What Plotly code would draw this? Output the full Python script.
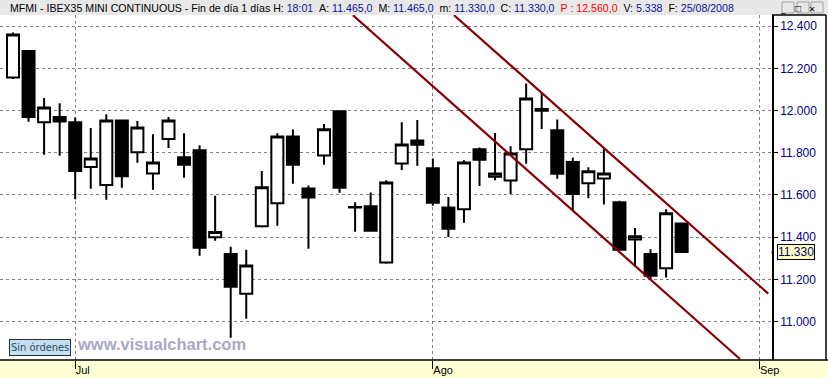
import pandas as pd
import plotly.graph_objects as go

# ---------------- data ----------------
dates = pd.bdate_range("2008-06-25", "2008-08-25")
opens = [12157, 12282, 11944, 11969, 11944, 11732, 11647, 11953, 11802, 11702,
         11865, 11779, 11812, 11399, 11320, 11132, 11451, 11560, 11877, 11631,
         11787, 11997, 11543, 11546, 11280, 11749, 11858, 11726, 11541, 11532,
         11816, 11686, 11669, 11816, 12007, 11907, 11756, 11655, 11678, 11565,
         11389, 11320, 11252, 11465]
highs = [12370, 12286, 12059, 12035, 11967, 11917, 11982, 11958, 11950, 11888,
         11969, 11893, 11836, 11596, 11354, 11340, 11713, 11892, 11911, 11645,
         11936, 12002, 11565, 11612, 11670, 11945, 11955, 11773, 11590, 11765,
         11825, 11894, 11831, 12128, 12086, 11958, 11778, 11731, 11821, 11572,
         11443, 11343, 11532, 11465]
lows = [12150, 11947, 11790, 11786, 11580, 11629, 11577, 11634, 11752, 11624,
        11823, 11681, 11312, 11383, 10923, 11013, 11446, 11454, 11653, 11345,
        11743, 11610, 11425, 11425, 11274, 11718, 11738, 11549, 11400, 11468,
        11642, 11670, 11605, 11748, 11913, 11677, 11528, 11584, 11555, 11339,
        11260, 11197, 11209, 11330]
closes = [12361, 11970, 12015, 11948, 11714, 11773, 11953, 11688, 11920, 11754,
          11953, 11743, 11350, 11424, 11165, 11266, 11636, 11877, 11743, 11588,
          11911, 11634, 11540, 11430, 11659, 11839, 11838, 11563, 11440, 11754,
          11767, 11702, 11797, 12057, 11999, 11700, 11605, 11712, 11702, 11340,
          11404, 11217, 11513, 11330]

month_ticks = ["2008-07-01", "2008-08-01", "2008-09-01"]
month_labels = ["Jul", "Ago", "Sep"]

y_ticks = [11000, 11200, 11400, 11600, 11800, 12000, 12200, 12400]
y_labels = ["11.000", "11.200", "11.400", "11.600", "11.800", "12.000", "12.200", "12.400"]

# channel lines (bar index, price)
lower_x = [21.86, 46.75]
lower_y = [12452, 10822]
upper_x = [28.36, 48.57]
upper_y = [12452, 11132]

last_price = 11330
header_parts = [
    ("MFMI - IBEX35 MINI CONTINUOUS - Fin de día 1 días H: ", "#000000"),
    ("18:01", "#1010A0"), ("  A: ", "#000000"), ("11.465,0", "#1010A0"),
    ("  M: ", "#000000"), ("11.465,0", "#1010A0"),
    ("  m: ", "#000000"), ("11.330,0", "#1010A0"),
    ("  C: ", "#000000"), ("11.330,0", "#1010A0"),
    ("  P : 12.560,0", "#FF0000"),
    ("  V: ", "#000000"), ("5.338", "#1010A0"),
    ("  F: ", "#000000"), ("25/08/2008", "#1010A0"),
]

# ---------------- positions ----------------
x_idx = list(range(len(dates)))
all_days = pd.bdate_range("2008-06-25", "2008-09-01")
tick_pos = [int(all_days.get_loc(pd.Timestamp(d))) for d in month_ticks]

W, H = 828, 378
L, R, T, B = 0, 56, 15, 18
PW, PH = W - L - R, H - T - B


def px(x):
    return (x - L) / PW


def py(y):
    return (H - B - y) / PH


fig = go.Figure()
fig.add_trace(go.Candlestick(
    x=x_idx, open=opens, high=highs, low=lows, close=closes,
    increasing=dict(fillcolor="white", line=dict(color="black", width=2)),
    decreasing=dict(fillcolor="black", line=dict(color="black", width=2)),
    whiskerwidth=0, showlegend=False, hoverinfo="skip",
))
for xs, ys in [(lower_x, lower_y), (upper_x, upper_y)]:
    fig.add_trace(go.Scatter(x=xs, y=ys, mode="lines",
                             line=dict(color="#860000", width=2.2),
                             showlegend=False, hoverinfo="skip"))

shapes = [
    # header bar
    dict(type="rect", xref="paper", yref="paper", x0=px(0), x1=px(W), y0=py(15), y1=py(0),
         fillcolor="#E8E8E8", line=dict(width=0), layer="below"),
    # bottom yellow band
    dict(type="rect", xref="paper", yref="paper", x0=px(0), x1=px(W), y0=py(H), y1=py(H - B),
         fillcolor="#FFFFD4", line=dict(width=0), layer="below"),
    dict(type="line", xref="paper", yref="paper", x0=px(0), x1=px(W), y0=py(H - B), y1=py(H - B),
         line=dict(color="black", width=1.5)),
    # right panel box
    dict(type="line", xref="paper", yref="paper", x0=px(772), x1=px(826), y0=py(15), y1=py(15),
         line=dict(color="black", width=1.5)),
    dict(type="line", xref="paper", yref="paper", x0=px(826), x1=px(826), y0=py(15), y1=py(H - B),
         line=dict(color="black", width=1.5)),
]
# window buttons
for bx in [782, 797, 811]:
    shapes.append(dict(type="rect", xref="paper", yref="paper", x0=px(bx), x1=px(bx + 12),
                       y0=py(13), y1=py(2), fillcolor="#E8E8E8",
                       line=dict(color="#A0A0A0", width=1)))

header_text = "".join(f'<span style="color:{c}">{t.replace(" ", "&nbsp;")}</span>' for t, c in header_parts)

annotations = [
    dict(xref="paper", yref="paper", x=px(8), y=py(8), xanchor="left", yanchor="middle",
         text=header_text, showarrow=False,
         font=dict(family="Liberation Sans, Arial", size=10.6, color="black")),
    dict(xref="paper", yref="paper", x=px(788), y=py(8), text="_", showarrow=False,
         font=dict(size=10, color="black"), yanchor="middle"),
    dict(xref="paper", yref="paper", x=px(803), y=py(8), text="□", showarrow=False,
         font=dict(size=10, color="black"), yanchor="middle"),
    dict(xref="paper", yref="paper", x=px(817), y=py(8), text="×", showarrow=False,
         font=dict(size=11, color="black"), yanchor="middle"),
    # price tag
    dict(xref="paper", yref="y", x=px(777), y=last_price, xanchor="left", yanchor="middle",
         text=f"{last_price/1000:.3f}", showarrow=False, bgcolor="#FFFFC0",
         bordercolor="black", borderwidth=1, borderpad=0,
         font=dict(family="Liberation Sans, Arial", size=12, color="#000080")),
    dict(xref="paper", yref="y", x=px(776), y=last_price, xanchor="right", yanchor="middle",
         text="‹", showarrow=False, font=dict(size=9, color="black")),
    # Sin órdenes box
    dict(xref="paper", yref="paper", x=px(9), y=py(347), xanchor="left", yanchor="middle",
         text="Sin órdenes", showarrow=False, bgcolor="#C8DCF0", bordercolor="#203040",
         borderwidth=1, borderpad=1,
         font=dict(family="Liberation Sans Narrow, DejaVu Sans Condensed, Arial", size=11,
                   color="#1E4E5E")),
    # watermark
    dict(xref="paper", yref="paper", x=px(75), y=py(344), xanchor="left", yanchor="middle",
         text="<b>www.visualchart.com</b>", showarrow=False,
         font=dict(family="Liberation Sans, Arial", size=16.5, color="#A8A8CC")),
]

fig.update_layout(
    width=W, height=H,
    margin=dict(l=L, r=R, t=T, b=B),
    paper_bgcolor="white", plot_bgcolor="white",
    boxgap=0.228, boxgroupgap=0,
    shapes=shapes, annotations=annotations,
    xaxis=dict(
        range=[-13 / 15.55, (772 - 13) / 15.55],
        rangeslider=dict(visible=False),
        tickmode="array", tickvals=tick_pos, ticktext=month_labels,
        ticks="outside", ticklen=8, tickcolor="black", tickwidth=1,
        ticklabelposition="outside right",
        tickfont=dict(family="Liberation Sans, Arial", size=11, color="black"),
        showgrid=True, gridcolor="#808080", griddash="dot", gridwidth=1,
        showline=False, zeroline=False, fixedrange=True,
    ),
    yaxis=dict(
        side="right",
        range=[10817.5, 12453],
        tickmode="array", tickvals=y_ticks, ticktext=y_labels,
        ticks="outside", ticklen=4, tickcolor="black", tickwidth=1,
        tickfont=dict(family="Liberation Sans, Arial", size=12, color="#000080"),
        showgrid=True, gridcolor="#808080", griddash="dot", gridwidth=1,
        showline=True, linecolor="black", linewidth=1.5, zeroline=False, fixedrange=True,
    ),
)

fig.write_html("out.html")
